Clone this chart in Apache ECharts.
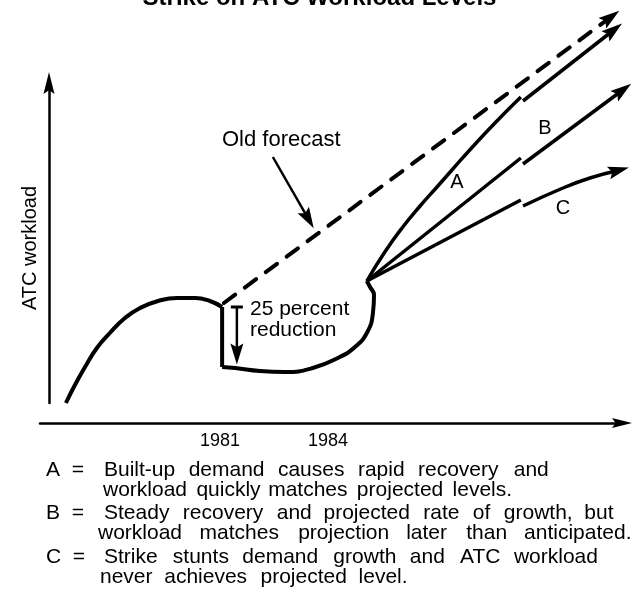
<!DOCTYPE html>
<html>
<head>
<meta charset="utf-8">
<script src="https://cdn.jsdelivr.net/npm/echarts@6/dist/echarts.min.js"></script>
<style>
  html, body { margin: 0; padding: 0; background: #fff; }
  #chart { width: 639px; height: 600px; }
</style>
</head>
<body>
<div id="chart"></div>
<script>
// x = year, y = ATC workload (arbitrary index)
const tickLabels = [1981, 1984];

const actualBefore = [
  [1976.72, 5.0], [1976.97, 9.5], [1977.25, 14.0], [1977.58, 18.75], [1977.94, 22.5],
  [1978.36, 26.25], [1978.78, 28.75], [1979.28, 30.5], [1979.81, 31.25], [1980.31, 31.25],
  [1980.72, 30.5], [1981.06, 29.0]
];
const strikeDrop = [[1981.06, 29.0], [1981.06, 14.0]];
const recovery = [
  [1981.06, 14.0], [1981.42, 13.75], [1982.11, 13.0], [1982.81, 12.75], [1983.58, 13.75],
  [1984.33, 16.5], [1984.75, 19.0], [1985.08, 22.5], [1985.25, 27.5], [1985.28, 32.0],
  [1985.17, 34.0], [1985.08, 35.5]
];
const oldForecast = [[1981.11, 30.0], [1991.86, 101.5]];
const pathA = [
  [1985.08, 35.5], [1985.58, 42.75], [1986.08, 49.0], [1986.56, 54.25], [1987.03, 59.0],
  [1987.47, 63.5], [1987.94, 68.25], [1988.64, 75.0], [1989.36, 81.5]
];
const pathA2 = [[1989.42, 80.5], [1991.94, 98.25]];
const pathB = [[1985.08, 35.5], [1989.36, 66.25]];
const pathB2 = [[1989.42, 64.75], [1992.19, 83.25]];
const pathC = [[1985.08, 35.5], [1989.36, 55.75]];
const pathC2 = [[1989.42, 54.25], [1990.53, 58.75], [1991.28, 61.25], [1992.08, 63.2]];
const reductionArrow = [[1981.47, 29.0], [1981.47, 17.25]];
const forecastPointer = [[1982.47, 66.5], [1983.46, 50.95]];

const notes = [
  ['A', 'Built-up demand causes rapid recovery and', 'workload quickly matches projected levels.'],
  ['B', 'Steady recovery and projected rate of growth, but', 'workload matches projection later than anticipated.'],
  ['C', 'Strike stunts demand growth and ATC workload', 'never achieves projected level.']
];

const FONT = '"Liberation Sans", Arial, Helvetica, sans-serif';
const ARROW = 'path://M5,0L10,20L5,16.5L0,20Z';
const chart = echarts.init(document.getElementById('chart'));

const paths = [
  { id: 'before', data: actualBefore, smooth: true, width: 4 },
  { id: 'drop', data: strikeDrop, width: 4 },
  { id: 'recovery', data: recovery, smooth: true, width: 4 },
  { id: 'forecast', data: oldForecast, width: 4, dashed: true, arrow: true },
  { id: 'a1', data: pathA, smooth: true, width: 3.5 },
  { id: 'a2', data: pathA2, width: 3.5, arrow: true },
  { id: 'b1', data: pathB, width: 3.5 },
  { id: 'b2', data: pathB2, width: 3.5, arrow: true },
  { id: 'c1', data: pathC, width: 3.5 },
  { id: 'c2', data: pathC2, smooth: true, width: 3.5, arrow: true },
  { id: 'reduction', data: reductionArrow, width: 2.5, arrow: true, cap: true },
  { id: 'pointer', data: forecastPointer, width: 2.5, arrow: true }
];

const buildSeries = (p, rot) => ({
  id: p.id,
  type: 'line',
  data: p.data.map((v, i) => {
    if (p.arrow && i === p.data.length - 1) {
      return { value: v, symbol: ARROW, symbolSize: [13, 21], symbolRotate: rot || 0 };
    }
    if (p.cap && i === 0) return { value: v, symbol: 'rect', symbolSize: [12, 3] };
    return { value: v };
  }),
  symbol: 'none',
  smooth: p.smooth ? 0.5 : false,
  clip: false,
  silent: true,
  lineStyle: {
    color: '#000',
    width: p.width,
    type: p.dashed ? [14, 12] : 'solid',
    cap: p.dashed ? 'round' : 'butt',
    join: 'round'
  },
  itemStyle: { color: '#000' }
});

// justify a line of text: even word gaps made of normal + hair spaces
const ctx = document.createElement('canvas').getContext('2d');
function justify(text, size, width) {
  ctx.font = size + 'px ' + FONT;
  const words = text.split(' ');
  const space = ctx.measureText(' ').width;
  const hair = ctx.measureText('\u200A').width;
  const wordsW = words.reduce((s, w) => s + ctx.measureText(w).width, 0);
  const gaps = words.length - 1;
  const gap = Math.max(space, (width - wordsW) / gaps);
  let out = words[0];
  let acc = 0;
  for (let i = 1; i < words.length; i++) {
    const want = gap * i - acc;
    const n = Math.max(1, Math.floor(want / space));
    let g = ' '.repeat(n);
    let used = n * space;
    if (hair > 0.5) {
      const m = Math.round((want - used) / hair);
      g += '\u200A'.repeat(Math.max(0, m));
      used += Math.max(0, m) * hair;
    }
    acc += used;
    out += g + words[i];
  }
  return out;
}

const txt = (x, y, text, size, extra) => ({
  type: 'text', x: x, y: y, silent: true,
  style: Object.assign({ text: text, fontSize: size, fontFamily: FONT, fill: '#000', textVerticalAlign: 'middle' }, extra || {})
});

const rowY = [470, 513, 557];
const lineX = [[104, 103], [104, 98], [104, 100]];
const lineEnd = [[548, 512], [614, 632], [598, 408]];
const graphics = [
  txt(222, 140, 'Old forecast', 22),
  txt(250, 309, '25 percent', 21),
  txt(250, 330, 'reduction', 21),
  txt(457, 182, 'A', 20, { textAlign: 'center' }),
  txt(545, 128, 'B', 20, { textAlign: 'center' }),
  txt(563, 208, 'C', 20, { textAlign: 'center' }),
  Object.assign(txt(30, 248, 'ATC workload', 20, { textAlign: 'center' }), { rotation: Math.PI / 2 })
];
notes.forEach((n, k) => {
  graphics.push(txt(46, rowY[k], n[0] + '  =', 21));
  graphics.push(txt(lineX[k][0], rowY[k], justify(n[1], 21, lineEnd[k][0] - lineX[k][0]), 21));
  graphics.push(txt(lineX[k][1], rowY[k] + 20, justify(n[2], 21, lineEnd[k][1] - lineX[k][1]), 21));
});

const option = {
  animation: false,
  backgroundColor: '#fff',
  title: {
    text: 'Strike on ATC Workload Levels',
    left: 'center',
    top: -19,
    textStyle: { fontSize: 24, fontWeight: 'bold', fontFamily: FONT, color: '#000' }
  },
  grid: [
    { left: 40, right: 17, top: 0, bottom: 177 },
    { left: 49, width: 10, top: 83, bottom: 197 }
  ],
  xAxis: [
    {
      type: 'value', gridIndex: 0, min: 1976, max: 1992.17, interval: 1,
      axisLine: { show: true, symbol: ['none', ARROW], symbolSize: [12, 20], lineStyle: { color: '#000', width: 2.5 } },
      axisTick: { show: false },
      splitLine: { show: false },
      axisLabel: {
        margin: 9, color: '#000', fontSize: 18, fontFamily: FONT,
        formatter: v => tickLabels.indexOf(Math.round(v)) >= 0 ? String(Math.round(v)) : ''
      }
    },
    { type: 'value', gridIndex: 1, show: false }
  ],
  yAxis: [
    { type: 'value', gridIndex: 0, min: 0, max: 105.75, show: false },
    {
      type: 'value', gridIndex: 1, min: 0, max: 1,
      axisLine: { show: true, symbol: ['none', ARROW], symbolSize: [13, 22], lineStyle: { color: '#000', width: 2.5 } },
      axisTick: { show: false }, axisLabel: { show: false }, splitLine: { show: false }
    }
  ],
  graphic: graphics,
  series: paths.map(p => buildSeries(p, 0))
};
chart.setOption(option);

// orient arrow heads along the last segment, in pixel space
chart.setOption({
  series: paths.map(p => {
    const n = p.data.length;
    const a = chart.convertToPixel({ gridIndex: 0 }, p.data[n - 2]);
    const b = chart.convertToPixel({ gridIndex: 0 }, p.data[n - 1]);
    const rot = Math.atan2(-(b[0] - a[0]), -(b[1] - a[1])) * 180 / Math.PI;
    return buildSeries(p, rot);
  })
});
</script>
</body>
</html>
